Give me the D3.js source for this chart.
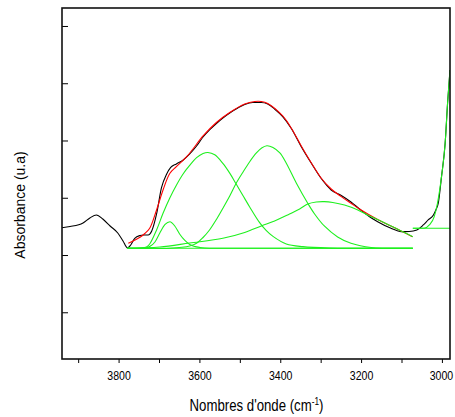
<!DOCTYPE html>
<html>
<head>
<meta charset="utf-8">
<script src="https://cdn.jsdelivr.net/npm/d3@7"></script>
<style>
  body { margin: 0; background: #fff; }
  text { font-family: 'Liberation Sans', Arial, sans-serif; }
</style>
</head>
<body>
<div id="chart"></div>
<script>
// wavenumber (cm-1) / absorbance pairs
const spectrumWn = [3940, 3920, 3888, 3871, 3855, 3839, 3821, 3802, 3789, 3778, 3770, 3760, 3747, 3739, 3727, 3718, 3706, 3694, 3681, 3671, 3657, 3640, 3624, 3607, 3591, 3575, 3558, 3542, 3525, 3505, 3488, 3468, 3447, 3431, 3414, 3394, 3373, 3348, 3323, 3299, 3274, 3249, 3225, 3204, 3180, 3159, 3126, 3101, 3081, 3062, 3046, 3034, 3021, 3015, 3009, 3001, 2992, 2986, 2980];
const spectrumAbs = [1.477, 1.498, 1.560, 1.647, 1.699, 1.629, 1.507, 1.385, 1.245, 1.123, 1.175, 1.292, 1.341, 1.350, 1.350, 1.420, 1.717, 2.171, 2.415, 2.529, 2.590, 2.660, 2.765, 2.904, 3.061, 3.184, 3.297, 3.393, 3.481, 3.568, 3.629, 3.664, 3.664, 3.638, 3.550, 3.416, 3.213, 2.892, 2.602, 2.340, 2.136, 2.040, 1.926, 1.804, 1.673, 1.582, 1.467, 1.408, 1.411, 1.437, 1.525, 1.612, 1.699, 1.787, 1.904, 2.368, 2.951, 3.650, 4.231];

const fitWn = [3776, 3762, 3747, 3735, 3723, 3706, 3690, 3673, 3657, 3632, 3616, 3591, 3558, 3525, 3488, 3463, 3447, 3431, 3394, 3373, 3348, 3323, 3299, 3274, 3249, 3225, 3204, 3159, 3126, 3101, 3073];
const fitAbs = [1.205, 1.254, 1.310, 1.376, 1.467, 1.787, 2.136, 2.427, 2.543, 2.712, 2.852, 3.079, 3.315, 3.489, 3.638, 3.681, 3.681, 3.646, 3.428, 3.219, 2.904, 2.607, 2.345, 2.153, 2.019, 1.904, 1.804, 1.621, 1.507, 1.420, 1.320];

const baselineWn = [3778, 3072];
const baselineAbs = [1.118, 1.118];

const peak1Wn = [3778, 3735, 3723, 3710, 3698, 3685, 3673, 3661, 3649, 3636, 3624, 3599, 3575, 3072];
const peak1Abs = [1.118, 1.123, 1.149, 1.228, 1.385, 1.533, 1.582, 1.507, 1.367, 1.254, 1.184, 1.132, 1.119, 1.118];

const peak2Wn = [3778, 3747, 3731, 3723, 3706, 3690, 3673, 3657, 3640, 3624, 3607, 3591, 3579, 3562, 3542, 3525, 3509, 3492, 3476, 3451, 3435, 3418, 3385, 3344, 3278, 3072];
const peak2Abs = [1.118, 1.123, 1.140, 1.193, 1.437, 1.729, 2.000, 2.220, 2.420, 2.565, 2.700, 2.773, 2.791, 2.750, 2.600, 2.430, 2.240, 2.035, 1.844, 1.565, 1.430, 1.325, 1.193, 1.146, 1.123, 1.118];

const peak3Wn = [3778, 3673, 3624, 3607, 3591, 3575, 3558, 3542, 3525, 3509, 3492, 3476, 3459, 3446, 3433, 3418, 3401, 3385, 3360, 3332, 3315, 3291, 3258, 3225, 3175, 3072];
const peak3Abs = [1.118, 1.119, 1.158, 1.205, 1.306, 1.437, 1.621, 1.816, 2.031, 2.253, 2.450, 2.625, 2.782, 2.869, 2.909, 2.878, 2.782, 2.602, 2.253, 1.904, 1.717, 1.507, 1.315, 1.205, 1.132, 1.118];

const peak4Wn = [3778, 3698, 3624, 3542, 3488, 3447, 3414, 3377, 3352, 3332, 3311, 3291, 3270, 3241, 3208, 3184, 3154, 3126, 3101, 3072];
const peak4Abs = [1.118, 1.140, 1.210, 1.292, 1.394, 1.507, 1.594, 1.717, 1.804, 1.891, 1.926, 1.932, 1.918, 1.874, 1.787, 1.699, 1.603, 1.507, 1.420, 1.320];

const edgeBaseWn = [3072, 2980];
const edgeBaseAbs = [1.467, 1.467];

const edgePeakWn = [3072, 3044, 3031, 3019, 3011, 3001, 2992, 2986, 2980];
const edgePeakAbs = [1.467, 1.467, 1.525, 1.670, 1.904, 2.368, 2.951, 3.650, 4.231];

const xTicks = [3900, 3800, 3700, 3600, 3500, 3400, 3300, 3200, 3100, 3000];
const xLabels = [3800, 3600, 3400, 3200, 3000];
const yTicks = [0, 1, 2, 3, 4, 5];

const margin = { top: 8, right: 5, bottom: 58, left: 62 };
const width = 455 - margin.left - margin.right;
const height = 417 - margin.top - margin.bottom;

const svg = d3
  .select('#chart')
  .append('svg')
  .attr('width', width + margin.left + margin.right)
  .attr('height', height + margin.top + margin.bottom)
  .append('g')
  .attr('transform', 'translate(' + margin.left + ',' + margin.top + ')');

const x = d3.scaleLinear().domain([3940, 2980]).range([0, width]);
const y = d3.scaleLinear().domain([-0.816, 5.314]).range([height, 0]);

svg
  .append('clipPath')
  .attr('id', 'plotclip')
  .append('rect')
  .attr('width', width)
  .attr('height', height);

// x axis: ticks every 100, labels every 200
const xAxis = svg
  .append('g')
  .attr('transform', 'translate(0,' + height + ')')
  .call(
    d3
      .axisBottom(x)
      .tickValues(xTicks)
      .tickSize(4)
      .tickPadding(8.5)
      .tickFormat((d) => (xLabels.includes(d) ? d : ''))
  );
xAxis.select('.domain').remove();
xAxis.selectAll('line').attr('stroke', '#000').attr('stroke-width', 1);
xAxis.selectAll('text').filter((d) => !xLabels.includes(d)).remove();
xAxis
  .selectAll('text')
  .attr('fill', '#000')
  .style('font-size', '12.5px')
  .attr('textLength', 23.5)
  .attr('lengthAdjust', 'spacingAndGlyphs');
// last label sits against the window edge, nudge it in a little
xAxis.selectAll('text').filter((d) => d === 3000).attr('x', -1);

// y axis: inward ticks, no labels
const yAxis = svg
  .append('g')
  .call(d3.axisLeft(y).tickValues(yTicks).tickSize(-6).tickFormat(''));
yAxis.select('.domain').remove();
yAxis.selectAll('line').attr('stroke', '#000').attr('stroke-width', 1);

const line = (wn, ab, curve) =>
  d3
    .line()
    .x((i) => x(wn[i]))
    .y((i) => y(ab[i]))
    .curve(curve)(d3.range(wn.length));

const plot = svg.append('g').attr('clip-path', 'url(#plotclip)');

function drawCurve(wn, ab, color, curve) {
  plot
    .append('path')
    .attr('d', line(wn, ab, curve || d3.curveCatmullRom.alpha(0.5)))
    .attr('fill', 'none')
    .attr('stroke', color)
    .attr('stroke-width', 1.1);
}

drawCurve(spectrumWn, spectrumAbs, '#000', d3.curveMonotoneX);
drawCurve(fitWn, fitAbs, '#ff0000');
const green = '#1ef01e';
drawCurve(baselineWn, baselineAbs, green);
drawCurve(peak1Wn, peak1Abs, green, d3.curveMonotoneX);
drawCurve(peak2Wn, peak2Abs, green);
drawCurve(peak3Wn, peak3Abs, green);
drawCurve(peak4Wn, peak4Abs, green);
drawCurve(edgeBaseWn, edgeBaseAbs, green);
drawCurve(edgePeakWn, edgePeakAbs, green, d3.curveMonotoneX);

// frame
svg
  .append('rect')
  .attr('width', width)
  .attr('height', height)
  .attr('fill', 'none')
  .attr('stroke', '#111')
  .attr('stroke-width', 1.6);

// axis titles, x title squeezed to the narrow look of the original
const xTitle = svg
  .append('text')
  .attr('text-anchor', 'middle')
  .style('font-size', '16px')
  .attr('fill', '#000');
xTitle.append('tspan').text("Nombres d'onde (cm");
xTitle.append('tspan').attr('dy', -6).style('font-size', '10px').text('-1');
xTitle.append('tspan').attr('dy', 6).text(')');
const titleLen = xTitle.node().getComputedTextLength();
xTitle.attr(
  'transform',
  'translate(' + (width / 2 + 0.5) + ',' + (height + 52) + ') scale(' + 134 / titleLen + ',1)'
);

svg
  .append('text')
  .attr('transform', 'translate(' + (25 - margin.left) + ',' + (205 - margin.top) + ') rotate(-90)')
  .attr('text-anchor', 'middle')
  .style('font-size', '14px')
  .attr('fill', '#000')
  .text('Absorbance (u.a)');
</script>
</body>
</html>
